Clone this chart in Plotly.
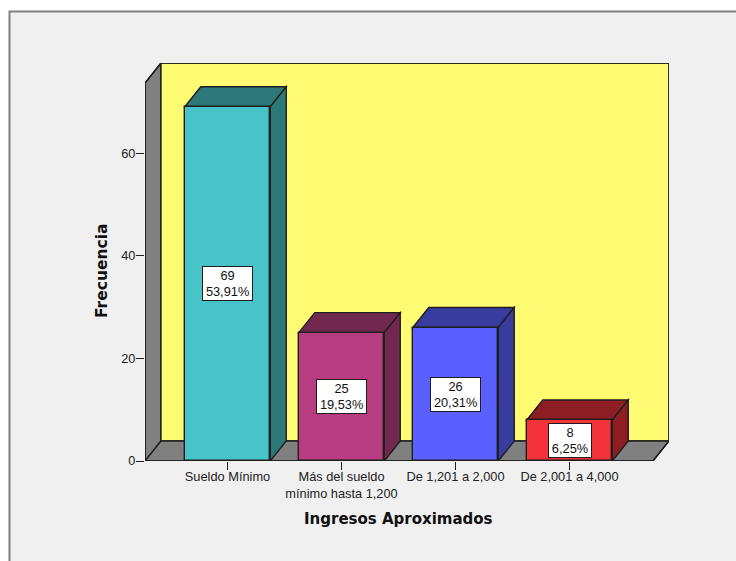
import plotly.graph_objects as go

# Income brackets and their counts / shares
categories = ["Sueldo Mínimo", "Más del sueldo<br>mínimo hasta 1,200", "De 1,201 a 2,000", "De 2,001 a 4,000"]
frequencies = [69, 25, 26, 8]
percentages = ["53,91%", "19,53%", "20,31%", "6,25%"]
front_colors = ["#48C4C8", "#B83D80", "#5A60FF", "#F4323C"]
shade_colors = ["#2D7878", "#702850", "#383C9E", "#8F1E24"]
y_ticks = [0, 20, 40, 60]

WIDTH, HEIGHT = 736, 561
PLOT_L, PLOT_R, PLOT_T, PLOT_B = 145, 669, 63, 461
PX_PER_X = 114.0
PX_PER_Y = 5.133
X0_PX = 227.5            # pixel column of the first category
DEPTH_X = 16 / PX_PER_X  # oblique depth in axis units
DEPTH_Y = 20 / PX_PER_Y
BAR_W = 0.75
EDGE = "#1e1e1e"

x_lo = (PLOT_L - X0_PX) / PX_PER_X
x_hi = (PLOT_R - X0_PX) / PX_PER_X
y_hi = (PLOT_B - PLOT_T) / PX_PER_Y


def polygon(points, fill, layer="below"):
    path = "M " + " L ".join(f"{x:.4f},{y:.4f}" for x, y in points) + " Z"
    return dict(type="path", xref="x", yref="y", path=path, fillcolor=fill, layer=layer,
                line=dict(color=EDGE, width=1.4))


shapes = []

# Page panel behind the chart
pw, ph = PLOT_R - PLOT_L, PLOT_B - PLOT_T
def pap_x(px): return (px - PLOT_L) / pw
def pap_y(px): return (PLOT_B - px) / ph
shapes.append(dict(type="rect", xref="paper", yref="paper", layer="below",
                   x0=pap_x(9.5), x1=pap_x(745), y0=pap_y(570), y1=pap_y(11.5),
                   fillcolor="#F0F0F0", line=dict(color="#808080", width=2)))

# Box walls: left side, floor and back
shapes.append(polygon([(x_lo, 0), (x_lo + DEPTH_X, DEPTH_Y), (x_lo + DEPTH_X, y_hi), (x_lo, y_hi - DEPTH_Y)], "#808080"))
shapes.append(polygon([(x_lo + DEPTH_X, DEPTH_Y), (x_hi, DEPTH_Y), (x_hi, y_hi), (x_lo + DEPTH_X, y_hi)], "#FFFB73"))
shapes.append(polygon([(x_lo, 0), (x_hi - DEPTH_X, 0), (x_hi, DEPTH_Y), (x_lo + DEPTH_X, DEPTH_Y)], "#808080"))

# Top and side faces of each bar
for i, v in enumerate(frequencies):
    l, r = i - BAR_W / 2, i + BAR_W / 2
    shapes.append(polygon([(l, v), (r, v), (r + DEPTH_X, v + DEPTH_Y), (l + DEPTH_X, v + DEPTH_Y)], shade_colors[i]))
    shapes.append(polygon([(r, 0), (r + DEPTH_X, DEPTH_Y), (r + DEPTH_X, v + DEPTH_Y), (r, v)], shade_colors[i]))

fig = go.Figure()

fig.add_trace(go.Bar(
    x=list(range(len(categories))), y=frequencies, width=BAR_W,
    marker=dict(color=front_colors, line=dict(color=EDGE, width=1.4)),
    hoverinfo="skip", showlegend=False,
))

# Outer silhouette of the box, kept unclipped so the edge strokes stay whole
fig.add_trace(go.Scatter(
    x=[x_lo, x_lo, x_lo + DEPTH_X, x_hi, x_hi, x_hi - DEPTH_X, x_lo],
    y=[0, y_hi - DEPTH_Y, y_hi, y_hi, DEPTH_Y, 0, 0],
    mode="lines", line=dict(color=EDGE, width=1.4), cliponaxis=False,
    hoverinfo="skip", showlegend=False,
))

annotations = [
    dict(x=i, y=v / 2, xref="x", yref="y", text=f"{v}<br>{p}", showarrow=False,
         font=dict(family="Liberation Sans", size=12.8, color="#111111"),
         width=7.2 * len(p) + 6, height=33,
         bgcolor="#FFFFFF", bordercolor=EDGE, borderwidth=1, borderpad=0, align="center", valign="middle")
    for i, (v, p) in enumerate(zip(frequencies, percentages))
]
annotations.append(dict(x=1.496, y=pap_y(519), xref="x", yref="paper", yanchor="middle",
                        text="<b>Ingresos Aproximados</b>", showarrow=False,
                        font=dict(family="DejaVu Sans", size=15, color="#111111")))
annotations.append(dict(x=pap_x(102), y=(PLOT_B - 271) / PX_PER_Y, xref="paper", yref="y", xanchor="center",
                        text="<b>Frecuencia</b>", textangle=-90, showarrow=False,
                        font=dict(family="DejaVu Sans", size=15.5, color="#111111")))

fig.update_layout(
    width=WIDTH, height=HEIGHT,
    margin=dict(l=PLOT_L, r=WIDTH - PLOT_R, t=PLOT_T, b=HEIGHT - PLOT_B, pad=0),
    paper_bgcolor="#FFFFFF", plot_bgcolor="rgba(0,0,0,0)",
    font=dict(family="Liberation Sans", size=12.8, color="#222222"),
    shapes=shapes, annotations=annotations, showlegend=False, bargap=0,
    xaxis=dict(range=[x_lo, x_hi], tickvals=list(range(len(categories))), ticktext=categories,
               ticks="outside", ticklen=8, tickwidth=1, tickcolor=EDGE, showgrid=False,
               zeroline=False, showline=False, fixedrange=True, tickangle=0, ticklabelstandoff=-4),
    yaxis=dict(range=[0, y_hi], tickvals=y_ticks, ticks="outside", ticklen=8, tickwidth=1,
               tickcolor=EDGE, showgrid=False, zeroline=False, showline=False, fixedrange=True,
               ticklabelstandoff=-2),
)

fig.write_html("out.html", config={"displayModeBar": False})
